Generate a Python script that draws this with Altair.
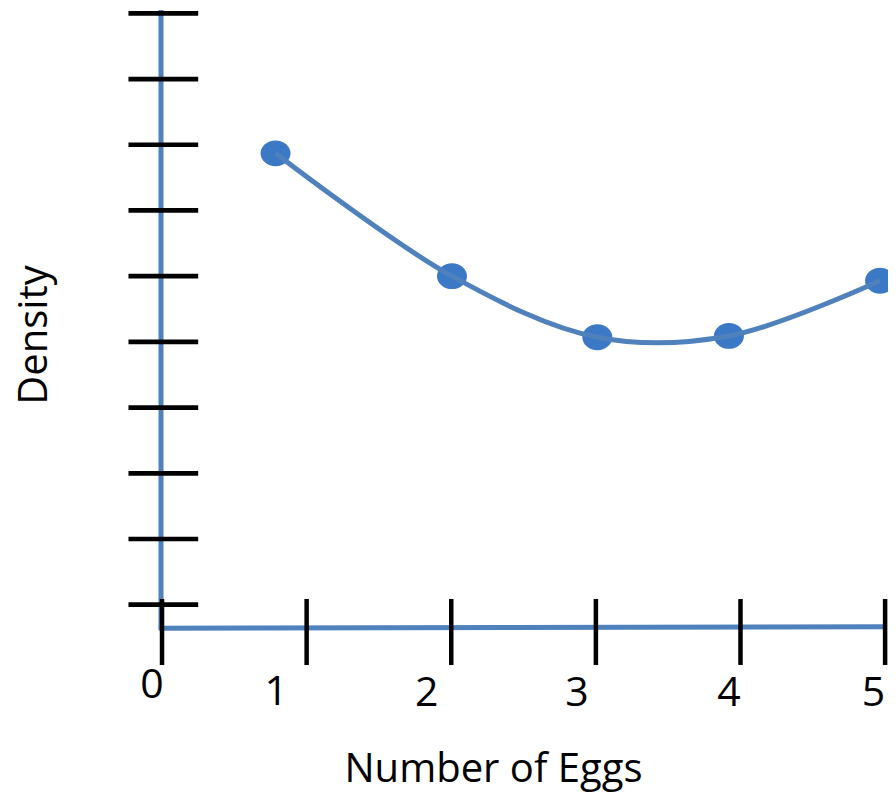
import altair as alt
import pandas as pd

# ---- data ----
egg_x = [0.785, 2.005, 3.01, 3.92, 4.965]
density_y = [7.87, 6.00, 5.07, 5.09, 5.93]

x_tick_values = [0, 1, 2, 3, 4, 5]
y_tick_values = [1, 2, 3, 4, 5, 6, 7, 8, 9, 10]

tick_labels = ["0", "1", "2", "3", "4", "5"]
tick_label_x = [-0.07, 0.79, 1.83, 2.87, 3.92, 4.92]
tick_label_y = [-0.42, -0.53, -0.54, -0.54, -0.54, -0.54]

x_title = "Number of Eggs"
y_title = "Density"

W, H = 880, 786
XDOM = [-1.065, 5.02]
YDOM = [-1.881, 10.081]

BLUE_LINE = "#4F81BD"
BLUE_PT = "#3B78C5"
FONT = "Open Sans"

xs = alt.Scale(domain=XDOM, nice=False, zero=False)
ys = alt.Scale(domain=YDOM, nice=False, zero=False)


def X(f="x"):
    return alt.X(f, type="quantitative", scale=xs, axis=None)


def Y(f="y"):
    return alt.Y(f, type="quantitative", scale=ys, axis=None)


pts = pd.DataFrame({"x": egg_x, "y": density_y})
lab = pd.DataFrame({"t": tick_labels, "x": tick_label_x, "y": tick_label_y})

# axis lines (blue): vertical and horizontal segments
axis_lines = pd.DataFrame({
    "x": [-0.007, -0.022], "x2": [-0.007, 5.0],
    "y": [0.62, 0.641], "y2": [10.05, 0.665],
})
# tick marks (black) crossing the axis lines
xt = pd.DataFrame({"x": x_tick_values, "x2": x_tick_values,
                   "y": [0.082] * len(x_tick_values), "y2": [1.087] * len(x_tick_values)})
yt = pd.DataFrame({"y": y_tick_values, "y2": y_tick_values,
                   "x": [-0.232] * len(y_tick_values), "x2": [0.25] * len(y_tick_values)})

axes = alt.Chart(axis_lines).mark_rule(color=BLUE_LINE, strokeWidth=5).encode(
    x=X(), x2="x2", y=Y(), y2="y2"
)
xticks = alt.Chart(xt).mark_rule(color="black", strokeWidth=4.5).encode(
    x=X(), x2="x2", y=Y(), y2="y2"
)
yticks = alt.Chart(yt).mark_rule(color="black", strokeWidth=4.7).encode(
    x=X(), x2="x2", y=Y(), y2="y2"
)

labels = alt.Chart(lab).mark_text(
    font=FONT, fontSize=41, color="black", align="center", baseline="alphabetic"
).encode(x=X(), y=Y(), text="t:N")

ellipse = "M-1,0A1,0.86,0,1,1,1,0A1,0.86,0,1,1,-1,0Z"
points = alt.Chart(pts).mark_point(
    shape=ellipse, filled=True, size=900, color=BLUE_PT, opacity=1
).encode(x=X(), y=Y())

curve = alt.Chart(pts).mark_line(
    color=BLUE_LINE, strokeWidth=5, interpolate="catmull-rom"
).encode(x=X(), y=Y())

xtitle = alt.Chart(pd.DataFrame({"t": [x_title]})).mark_text(
    font=FONT, fontSize=40, color="black", align="center", baseline="alphabetic"
).encode(x=alt.value(485.5), y=alt.value(774), text="t:N")

ytitle = alt.Chart(pd.DataFrame({"t": [y_title]})).mark_text(
    font=FONT, fontSize=40, color="black", align="center", baseline="alphabetic", angle=270
).encode(x=alt.value(39), y=alt.value(327), text="t:N")

chart = alt.layer(
    axes, points, curve, xticks, yticks, labels, xtitle, ytitle
).properties(
    width=W, height=H, autosize=alt.AutoSizeParams(type="none"), padding=0
).configure_view(stroke=None)

chart.save("out.html", embed_options={"renderer": "svg", "actions": False})
